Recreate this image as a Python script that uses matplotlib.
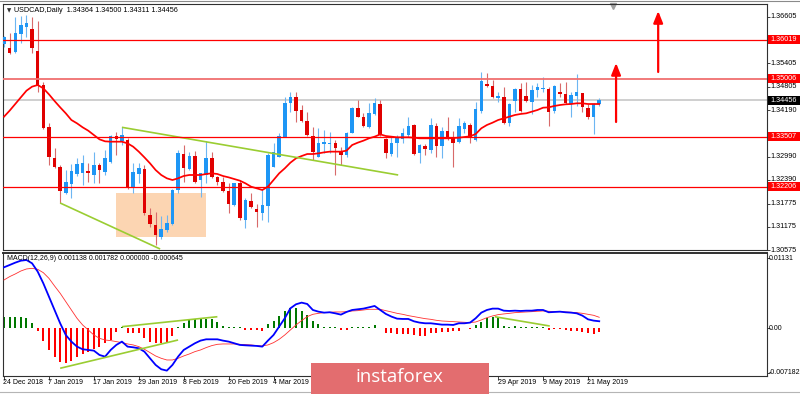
import numpy as np
import matplotlib
matplotlib.use('Agg')
import matplotlib.pyplot as plt
from matplotlib.patches import Rectangle
from matplotlib.lines import Line2D
import matplotlib.transforms as mtransforms

# ---------------- data ----------------
opens = [1.35906, 1.35794, 1.35708, 1.36156, 1.36355, 1.36294, 1.35734, 1.34845, 1.33750, 1.32947,
         1.32732, 1.32041, 1.32283, 1.32542, 1.32559, 1.32628, 1.32516, 1.32775, 1.32602, 1.32861,
         1.33525, 1.33404, 1.33422, 1.32171, 1.32542, 1.32662, 1.31481, 1.31222, 1.30903, 1.31092,
         1.31248, 1.32128, 1.33059, 1.32662, 1.33007, 1.32386, 1.32516, 1.32947, 1.32473, 1.32343,
         1.32110, 1.31739, 1.32317, 1.31351, 1.31852, 1.31627, 1.31524, 1.31713, 1.32732, 1.32990,
         1.33491, 1.34388, 1.34526, 1.34198, 1.33922, 1.33525, 1.32990, 1.33318, 1.33318, 1.33335,
         1.33120, 1.33033, 1.33611, 1.34241, 1.34025, 1.33767, 1.34095, 1.34353, 1.33439, 1.33059,
         1.33335, 1.33439, 1.33551, 1.33810, 1.33094, 1.33275, 1.33163, 1.33784, 1.33266, 1.33663,
         1.33465, 1.33378, 1.33698, 1.33810, 1.33422, 1.34181, 1.34862, 1.34819, 1.34517, 1.34543,
         1.33853, 1.34440, 1.34733, 1.34560, 1.34414, 1.34716, 1.34733, 1.34750, 1.34181, 1.34673,
         1.34612, 1.34353, 1.34560, 1.34629, 1.34241, 1.34025, 1.34364]
highs = [1.36113, 1.36182, 1.36614, 1.36631, 1.36657, 1.36596, 1.36510, 1.34931, 1.33870, 1.33206,
         1.32775, 1.32645, 1.32800, 1.32947, 1.33033, 1.32818, 1.33120, 1.32818, 1.33163, 1.33551,
         1.33637, 1.33767, 1.33465, 1.32835, 1.32818, 1.32775, 1.31653, 1.31567, 1.31455, 1.31481,
         1.32150, 1.33163, 1.33292, 1.33120, 1.33146, 1.32576, 1.33404, 1.33120, 1.32490, 1.32473,
         1.32317, 1.32317, 1.32386, 1.31912, 1.32041, 1.31765, 1.32145, 1.33076, 1.33353, 1.33594,
         1.34543, 1.34673, 1.34673, 1.34327, 1.34155, 1.33767, 1.33724, 1.33680, 1.33637, 1.33422,
         1.33249, 1.33637, 1.34284, 1.34457, 1.34129, 1.34371, 1.34500, 1.34457, 1.33465, 1.33508,
         1.33551, 1.33724, 1.34025, 1.33836, 1.33318, 1.33318, 1.33982, 1.33870, 1.33767, 1.34025,
         1.33663, 1.33982, 1.33922, 1.33870, 1.34414, 1.35190, 1.35164, 1.34975, 1.34673, 1.34785,
         1.34388, 1.34759, 1.34905, 1.34931, 1.34845, 1.34888, 1.35044, 1.34785, 1.34845, 1.34888,
         1.34931, 1.34673, 1.35130, 1.34647, 1.34353, 1.34371, 1.34500]
lows = [1.35837, 1.35647, 1.35665, 1.35941, 1.36096, 1.35665, 1.34673, 1.33700, 1.32775, 1.32688,
        1.31783, 1.32024, 1.31912, 1.32490, 1.32257, 1.32343, 1.32300, 1.32300, 1.32516, 1.32818,
        1.33033, 1.33292, 1.32150, 1.32041, 1.32300, 1.31481, 1.31179, 1.30704, 1.30851, 1.31049,
        1.31230, 1.32041, 1.32343, 1.32645, 1.32317, 1.31955, 1.32300, 1.32430, 1.32257, 1.32084,
        1.31524, 1.31713, 1.31351, 1.31136, 1.31653, 1.31179, 1.31351, 1.31308, 1.32732, 1.32990,
        1.33491, 1.34155, 1.33896, 1.33896, 1.33525, 1.32904, 1.32973, 1.33076, 1.33076, 1.32516,
        1.32775, 1.32990, 1.33611, 1.34008, 1.33750, 1.33724, 1.34069, 1.33525, 1.32947, 1.33007,
        1.32990, 1.33335, 1.33508, 1.33033, 1.32818, 1.33033, 1.33076, 1.32990, 1.32947, 1.33422,
        1.32732, 1.33353, 1.33594, 1.33335, 1.33404, 1.34129, 1.34785, 1.34500, 1.34414, 1.33836,
        1.33784, 1.34155, 1.34155, 1.34414, 1.34095, 1.34543, 1.34673, 1.33784, 1.34112, 1.34543,
        1.34353, 1.34008, 1.34302, 1.34155, 1.33957, 1.33577, 1.34311]
closes = [1.36079, 1.35682, 1.36182, 1.36398, 1.36458, 1.35794, 1.34845, 1.33724, 1.32990, 1.32732,
          1.32110, 1.32343, 1.32628, 1.32800, 1.32818, 1.32559, 1.32775, 1.32645, 1.32947, 1.33525,
          1.33439, 1.33551, 1.32171, 1.32602, 1.32688, 1.31524, 1.31248, 1.30963, 1.31110, 1.31282,
          1.32128, 1.33076, 1.32688, 1.33007, 1.32343, 1.32559, 1.32947, 1.32473, 1.32343, 1.32110,
          1.31765, 1.32300, 1.31394, 1.31869, 1.31679, 1.31567, 1.31739, 1.33033, 1.33120, 1.33525,
          1.34371, 1.34543, 1.34181, 1.33922, 1.33551, 1.33120, 1.33335, 1.33378, 1.33353, 1.33206,
          1.33033, 1.33611, 1.34241, 1.34008, 1.33784, 1.34112, 1.34388, 1.33551, 1.33076, 1.33335,
          1.33508, 1.33611, 1.33784, 1.33059, 1.33292, 1.33189, 1.33810, 1.33266, 1.33655, 1.33465,
          1.33335, 1.33784, 1.33853, 1.33465, 1.34215, 1.34949, 1.34819, 1.34543, 1.34560, 1.33870,
          1.34353, 1.34733, 1.34181, 1.34440, 1.34716, 1.34785, 1.34742, 1.34155, 1.34819, 1.34612,
          1.34371, 1.34586, 1.34673, 1.34284, 1.34008, 1.34353, 1.34456]
ma = [1.34025, 1.34181, 1.34353, 1.34526, 1.34698, 1.34802, 1.34845, 1.34759, 1.34604, 1.34431,
      1.34267, 1.34112, 1.33939, 1.33853, 1.33750, 1.33663, 1.33551, 1.33439, 1.33387, 1.33378,
      1.33378, 1.33378, 1.33335, 1.33249, 1.33120, 1.32973, 1.32818, 1.32645, 1.32516, 1.32430,
      1.32386, 1.32430, 1.32490, 1.32516, 1.32516, 1.32516, 1.32542, 1.32559, 1.32542, 1.32490,
      1.32455, 1.32412, 1.32369, 1.32300, 1.32214, 1.32171, 1.32128, 1.32214, 1.32386, 1.32559,
      1.32688, 1.32835, 1.32947, 1.33007, 1.33059, 1.33059, 1.33076, 1.33102, 1.33120, 1.33120,
      1.33120, 1.33146, 1.33292, 1.33353, 1.33404, 1.33465, 1.33508, 1.33568, 1.33525, 1.33508,
      1.33491, 1.33491, 1.33491, 1.33482, 1.33465, 1.33465, 1.33465, 1.33465, 1.33465, 1.33465,
      1.33473, 1.33482, 1.33499, 1.33517, 1.33577, 1.33724, 1.33810, 1.33870, 1.33939, 1.33982,
      1.34025, 1.34069, 1.34095, 1.34112, 1.34155, 1.34198, 1.34258, 1.34267, 1.34302, 1.34327,
      1.34345, 1.34353, 1.34371, 1.34371, 1.34353, 1.34353, 1.34353]
macd_line = [0.00986, 0.01023, 0.01061, 0.01093, 0.01104, 0.01050, 0.00916, 0.00727, 0.00512, 0.00296,
             0.00081, -0.00108, -0.00215, -0.00296, -0.00339, -0.00350, -0.00361, -0.00431, -0.00458, -0.00350,
             -0.00269, -0.00215, -0.00296, -0.00307, -0.00323, -0.00377, -0.00485, -0.00592, -0.00662, -0.00684,
             -0.00592, -0.00458, -0.00350, -0.00296, -0.00242, -0.00199, -0.00178, -0.00178, -0.00178, -0.00199,
             -0.00215, -0.00242, -0.00269, -0.00275, -0.00280, -0.00285, -0.00296, -0.00199, -0.00108, 0.00027,
             0.00162, 0.00323, 0.00388, 0.00415, 0.00393, 0.00296, 0.00269, 0.00253, 0.00259, 0.00242,
             0.00221, 0.00264, 0.00296, 0.00307, 0.00318, 0.00339, 0.00361, 0.00296, 0.00232, 0.00189,
             0.00156, 0.00151, 0.00151, 0.00113, 0.00092, 0.00081, 0.00081, 0.00070, 0.00059, 0.00059,
             0.00054, 0.00081, 0.00081, 0.00092, 0.00162, 0.00253, 0.00296, 0.00318, 0.00318, 0.00285,
             0.00280, 0.00285, 0.00280, 0.00285, 0.00285, 0.00296, 0.00296, 0.00259, 0.00264, 0.00269,
             0.00259, 0.00253, 0.00242, 0.00205, 0.00145, 0.00124, 0.001138]
signal_line = [0.00781, 0.00835, 0.00878, 0.00926, 0.00959, 0.00969, 0.00953, 0.00899, 0.00808, 0.00684,
               0.00566, 0.00431, 0.00296, 0.00162, 0.00054, -0.00027, -0.00108, -0.00162, -0.00189, -0.00199,
               -0.00215, -0.00232, -0.00253, -0.00269, -0.00296, -0.00339, -0.00393, -0.00447, -0.00485, -0.00512,
               -0.00512, -0.00485, -0.00447, -0.00415, -0.00377, -0.00350, -0.00312, -0.00280, -0.00259, -0.00253,
               -0.00253, -0.00253, -0.00259, -0.00264, -0.00269, -0.00280, -0.00285, -0.00269, -0.00232, -0.00178,
               -0.00108, -0.00027, 0.00054, 0.00124, 0.00189, 0.00226, 0.00242, 0.00253, 0.00259, 0.00264,
               0.00264, 0.00269, 0.00280, 0.00285, 0.00296, 0.00307, 0.00307, 0.00307, 0.00285, 0.00264,
               0.00242, 0.00226, 0.00205, 0.00189, 0.00172, 0.00156, 0.00145, 0.00129, 0.00118, 0.00113,
               0.00108, 0.00102, 0.00097, 0.00092, 0.00102, 0.00135, 0.00172, 0.00199, 0.00221, 0.00232,
               0.00242, 0.00253, 0.00259, 0.00264, 0.00269, 0.00275, 0.00280, 0.00275, 0.00269, 0.00269,
               0.00264, 0.00259, 0.00253, 0.00242, 0.00226, 0.00210, 0.001782]
histogram = [0.00189, 0.00178, 0.00178, 0.00178, 0.00162, 0.00092, -0.00043, -0.00199, -0.00350, -0.00458,
             -0.00539, -0.00566, -0.00522, -0.00469, -0.00415, -0.00377, -0.00339, -0.00296, -0.00232, -0.00189,
             -0.00054, 0.00016, -0.00081, -0.00081, -0.00081, -0.00162, -0.00215, -0.00232, -0.00232, -0.00232,
             -0.00124, 0.00027, 0.00092, 0.00145, 0.00145, 0.00145, 0.00156, 0.00145, 0.00108, 0.00038,
             0.00016, 0.00016, 0.00016, -0.00027, -0.00027, -0.00027, -0.00038, 0.00070, 0.00124, 0.00199,
             0.00280, 0.00323, 0.00323, 0.00285, 0.00215, 0.00124, 0.00070, 0.00027, 0.00016, 0.00016,
             -0.00027, -0.00027, 0.00027, 0.00027, 0.00027, 0.00027, 0.00054, 0.00011, -0.00081, -0.00081,
             -0.00092, -0.00092, -0.00092, -0.00108, -0.00118, -0.00118, -0.00081, -0.00070, -0.00065, -0.00054,
             -0.00043, -0.00038, 0.00011, -0.00016, 0.00054, 0.00108, 0.00162, 0.00189, 0.00162, 0.00038,
             0.00027, 0.00038, 0.00016, 0.00016, 0.00016, 0.00027, 0.00027, -0.00027, -0.00016, -0.00016,
             -0.00027, -0.00038, -0.00038, -0.00054, -0.00081, -0.00092, -0.000645]

# date ticks every 8 bars; the labels 14 Mar .. 17 Apr are hidden by the watermark in the reference
date_tick_pos = [0, 8, 16, 24, 32, 40, 48, 56, 64, 72, 80, 88, 96, 104]
date_labels = ['24 Dec 2018', '7 Jan 2019', '17 Jan 2019', '29 Jan 2019', '8 Feb 2019', '20 Feb 2019',
               '4 Mar 2019', '', '', '', '', '29 Apr 2019', '9 May 2019', '21 May 2019']
price_ticks = [1.36605, 1.35405, 1.34805, 1.34190, 1.32990, 1.32390, 1.31775, 1.31175, 1.30575]
level_lines = [1.36019, 1.35006, 1.33507, 1.32206]
last_price = 1.34456
macd_ticks = [0.01131, 0.0, -0.007182]
macd_tick_labels = ['0.01131', '0.00', '-0.007182']
header_main = 'USDCAD,Daily  1.34364 1.34500 1.34311 1.34456'
header_macd = 'MACD(12,26,9) 0.001138 0.001782 0.000000 -0.000645'

trend_main = [((21.0, 1.33750), (70.2, 1.32516)), ((10.0, 1.31791), (27.8, 1.30601))]
trend_macd = [((21.0, 0.00026), (38.0, 0.00187)), ((10.0, -0.00646), (31.0, -0.00189)),
              ((87.4, 0.00187), (97.2, 0.00037))]
zone = (19.95, 35.97, 1.30904, 1.32058)
arrows = [(109.0, 1.33888, 1.35415), (116.5, 1.35182, 1.36760)]

# ---------------- styling ----------------
W, H = 800, 394
FONT = 'Liberation Sans'
BULL = '#1E96F5'
BEAR = '#E00000'
BULL_W = '#6DB6F2'
BEAR_W = '#D86A6A'
GREEN_TL = '#9ACD32'

fig = plt.figure(figsize=(W / 100, H / 100), dpi=100)
fig.patch.set_facecolor('white')

def fx(px):
    return px / W

def fy(py):
    return 1 - py / H

ax = fig.add_axes([fx(3), fy(250), fx(764), 246 / H])
axm = fig.add_axes([fx(3), fy(376), fx(764), 123 / H])

n = len(closes)
idx = np.arange(n)
xlim = (-0.18, 135.88)

# ---- main panel ----
ax.set_xlim(*xlim)
ax.set_ylim(1.30575, 1.36941)
ax.add_patch(Rectangle((zone[0], zone[2]), zone[1] - zone[0], zone[3] - zone[2],
                       facecolor='#FCD5B2', edgecolor='none', zorder=0.5))

o = np.array(opens); c = np.array(closes); hi = np.array(highs); lo = np.array(lows)
up = c >= o
ax.vlines(idx[up], lo[up], hi[up], color=BULL_W, lw=0.8, zorder=3)
ax.vlines(idx[~up], lo[~up], hi[~up], color=BEAR_W, lw=0.8, zorder=3)
body_h = np.maximum(np.abs(c - o), 0.00022)
body_b = np.minimum(o, c)
ax.bar(idx[up], body_h[up], bottom=body_b[up], width=0.62, color=BULL, zorder=3.5, linewidth=0)
ax.bar(idx[~up], body_h[~up], bottom=body_b[~up], width=0.62, color=BEAR, zorder=3.5, linewidth=0)

ax.plot(idx, ma, color='#FF0000', lw=1.25, zorder=4)

ax.axhline(last_price, color='#CFCFCF', lw=1.4, zorder=1)
for lv in level_lines:
    if abs(lv - 1.35006) < 1e-6:
        ax.axhline(lv, color='#F07070', lw=1.3, zorder=5)
    else:
        ax.axhline(lv, color='#FF0000', lw=0.9, zorder=5)

for (x0, y0), (x1, y1) in trend_main:
    ax.plot([x0, x1], [y0, y1], color=GREEN_TL, lw=1.2, zorder=4.5, solid_capstyle='butt')

for xa, y0, y1 in arrows:
    ax.annotate('', xy=(xa, y1), xytext=(xa, y0),
                arrowprops=dict(arrowstyle='-|>,head_length=0.7,head_width=0.28', color='#FF0000',
                                lw=1.6, shrinkA=0, shrinkB=0, mutation_scale=10), zorder=6)

# top marker triangle
ax.plot([108.5], [0.992], marker='v', color='#A0A0A0', markersize=4,
        transform=mtransforms.blended_transform_factory(ax.transData, ax.transAxes), clip_on=False)

ax.set_xticks([])
ax.yaxis.tick_right()
ax.set_yticks(price_ticks + level_lines + [last_price])
ax.set_yticklabels([])
ax.tick_params(axis='y', length=2.5, width=0.6, color='#202020', direction='out')
for s in ax.spines.values():
    s.set_color('#303030'); s.set_linewidth(0.8)

bt = mtransforms.blended_transform_factory(ax.transAxes, ax.transData)
px_price = (1.36941 - 1.30575) / 246.0
for p in price_ticks:
    ax.text(1.0045, p, f'{p:.5f}', transform=bt, fontsize=5.2, family=FONT, va='center',
            ha='left', color='black', clip_on=False, zorder=8)
box_h = 9 * px_price
for lv in level_lines:
    ax.add_patch(Rectangle((1.0013, lv - box_h / 2), 0.045, box_h, transform=bt, facecolor='#FF0000',
                           edgecolor='none', clip_on=False, zorder=9))
    ax.text(1.0045, lv, f'{lv:.5f}', transform=bt, fontsize=5.2, family=FONT, va='center',
            ha='left', color='white', clip_on=False, zorder=10)
ax.add_patch(Rectangle((1.0013, last_price - box_h / 2), 0.045, box_h, transform=bt, facecolor='#000000',
                       edgecolor='none', clip_on=False, zorder=9))
ax.text(1.0045, last_price, f'{last_price:.5f}', transform=bt, fontsize=5.2, family=FONT, va='center',
        ha='left', color='white', clip_on=False, zorder=10)

fig.text(fx(7), fy(10.5), '\u25BC', fontsize=4, color='#303030', va='center', ha='left')
fig.text(fx(14), fy(10), header_main, fontsize=5.2, family=FONT, va='center', ha='left', color='black')

# ---- MACD panel ----
axm.set_xlim(*xlim)
axm.set_ylim(-0.00771, 0.01217)
hist = np.array(histogram)
axm.bar(idx, hist, width=0.36, color=np.where(hist >= 0, '#007800', '#FF0000'), linewidth=0, zorder=2)
axm.plot(idx, signal_line, color='#FF3030', lw=0.6, zorder=3)
axm.plot(idx, macd_line, color='#0000FF', lw=1.3, zorder=4)
for (x0, y0), (x1, y1) in trend_macd:
    axm.plot([x0, x1], [y0, y1], color=GREEN_TL, lw=1.2, zorder=5, solid_capstyle='butt')

axm.yaxis.tick_right()
axm.set_yticks(macd_ticks)
axm.set_yticklabels([])
axm.tick_params(axis='y', length=2.5, width=0.6, color='#202020', direction='out')
axm.set_xticks(date_tick_pos)
axm.set_xticklabels([])
axm.tick_params(axis='x', length=3, width=0.6, color='#202020', direction='out')
for s in axm.spines.values():
    s.set_color('#303030'); s.set_linewidth(0.8)
axm.spines['top'].set_linewidth(1.4)

btm = mtransforms.blended_transform_factory(axm.transAxes, axm.transData)
for v, lab in zip(macd_ticks, macd_tick_labels):
    axm.text(1.0025, v, lab, transform=btm, fontsize=5.0, family=FONT, va='center', ha='left',
             color='black', clip_on=False)
bx = mtransforms.blended_transform_factory(axm.transData, fig.transFigure)
for pos, lab in zip(date_tick_pos, date_labels):
    if lab:
        axm.text(pos - 0.1, fy(382.5), lab, transform=bx, fontsize=5.0, family=FONT, va='center',
                 ha='left', color='black', clip_on=False)
fig.text(fx(7), fy(258), header_macd, fontsize=5.0, family=FONT, va='center', ha='left', color='black')

# ---- frame lines & watermark ----
fig.add_artist(Line2D([0, 1], [fy(1.2), fy(1.2)], color='#8A8A8A', lw=0.8, transform=fig.transFigure))
fig.add_artist(Line2D([0, 1], [fy(391.5), fy(391.5)], color='#B5B5B5', lw=0.8, transform=fig.transFigure))
fig.add_artist(Rectangle((fx(311), 0), fx(178), (394 - 363) / H, transform=fig.transFigure,
                         facecolor='#E36D6F', edgecolor='none', zorder=20))
fig.text(fx(399), fy(377), 'instaforex', fontsize=13.5, family='Open Sans', color='white',
         ha='center', va='center', zorder=21)

fig.savefig('out.png', dpi=100, facecolor='white')
